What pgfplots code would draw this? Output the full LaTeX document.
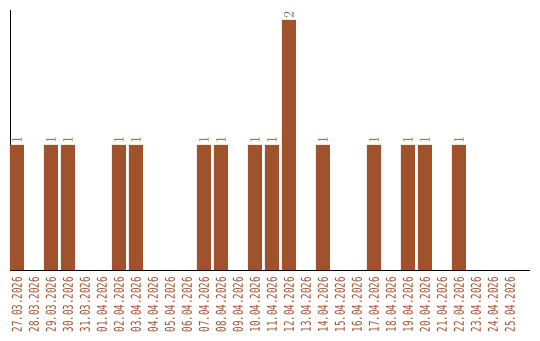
\documentclass[border=0pt]{standalone}
\usepackage{fontspec}
\usepackage{pgfplots}
\pgfplotsset{compat=1.18}
\newfontfamily\lab[FakeStretch=0.68]{DejaVu Sans Mono}
\definecolor{bar}{HTML}{A0522D}
\begin{document}
\begin{tikzpicture}
\begin{axis}[
  scale only axis,
  width=520pt, height=260pt,
  xmin=-0.41, xmax=30.18,
  ymin=0, ymax=2.08,
  axis x line=bottom, axis y line=left,
  axis line style={-, black, line width=0.8pt},
  ytick=\empty,
  xtick={0,...,29},
  xticklabels={27.03.2026,28.03.2026,29.03.2026,30.03.2026,31.03.2026,01.04.2026,02.04.2026,03.04.2026,04.04.2026,05.04.2026,06.04.2026,07.04.2026,08.04.2026,09.04.2026,10.04.2026,11.04.2026,12.04.2026,13.04.2026,14.04.2026,15.04.2026,16.04.2026,17.04.2026,18.04.2026,19.04.2026,20.04.2026,21.04.2026,22.04.2026,23.04.2026,24.04.2026,25.04.2026},
  major tick length=0pt,
  xticklabel style={rotate=90, anchor=east, inner sep=0pt, text=bar, font=\lab\fontsize{13.5}{14}\selectfont},
  xticklabel shift={7pt},
  ybar, bar width=14pt,
  nodes near coords,
  every node near coord/.append style={rotate=90, anchor=west, inner sep=1.5pt, text=bar, font=\lab\fontsize{13.5}{14}\selectfont},
  clip=false,
]
\addplot[fill=bar, draw=none] coordinates {
(0,1) (2,1) (3,1) (6,1) (7,1) (11,1) (12,1) (14,1) (15,1) (16,2) (18,1) (21,1) (23,1) (24,1) (26,1)
};
\path (rel axis cs:0,0) ++(-10pt,-70pt) rectangle ++(540pt,340pt);
\end{axis}
\end{tikzpicture}
\end{document}
